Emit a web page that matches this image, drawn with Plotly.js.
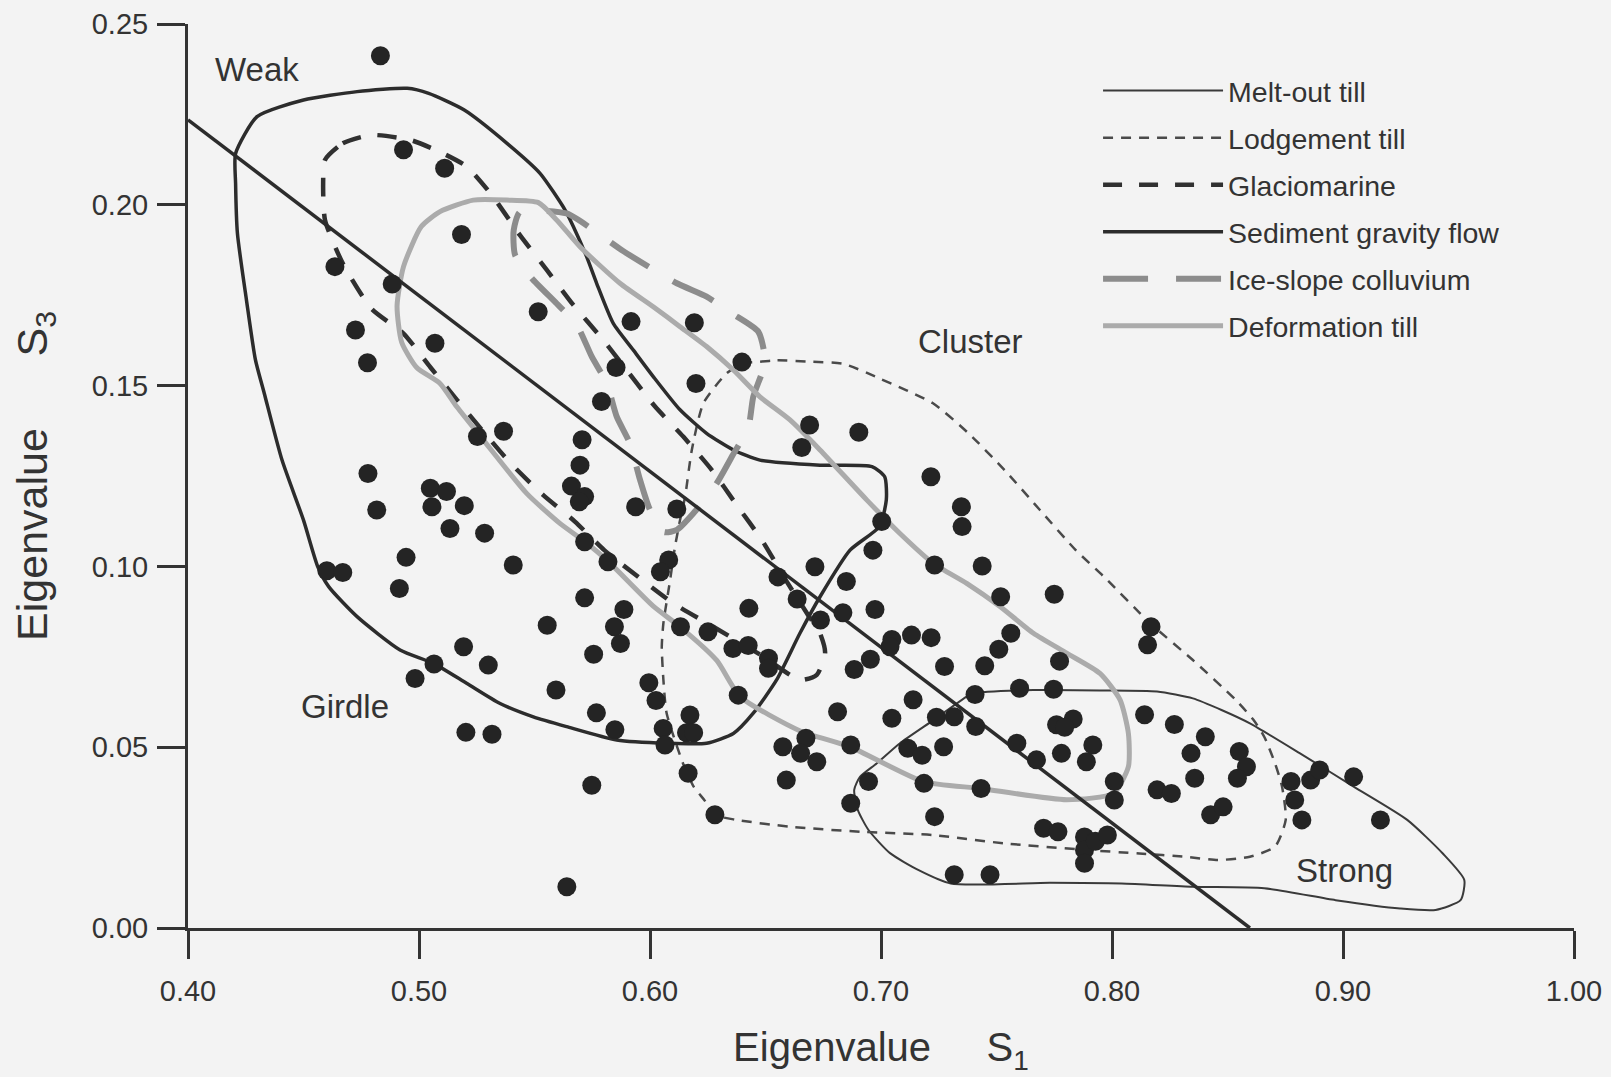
<!DOCTYPE html>
<html>
<head>
<meta charset="utf-8">
<script src="https://cdn.plot.ly/plotly-3.0.1.min.js"></script>
<style>html,body{margin:0;padding:0;background:#f3f3f3;}#chart{width:1611px;height:1077px;}</style>
</head>
<body>
<div id="chart"></div>
<script>
// ---- sample points: eigenvalue S1 (x) and S3 (y) ----
const s1Values = [0.4833,0.4933,0.5111,0.5184,0.4636,0.4884,0.5516,0.4725,0.5069,0.4777,
0.5918,0.6192,0.6398,0.5853,0.6199,0.5790,0.6691,0.6904,0.6657,0.5366,
0.5253,0.5706,0.5697,0.4779,0.5660,0.5717,0.5694,0.5938,0.6116,0.7216,
0.7348,0.7351,0.7003,0.4817,0.5049,0.5119,0.5056,0.5196,0.5134,0.5284,
0.4944,0.5408,0.4915,0.4601,0.4670,0.6965,0.5717,0.5818,0.6081,0.6045,
0.6714,0.7232,0.7438,0.6554,0.6850,0.7518,0.7750,0.6637,0.5717,0.6428,
0.6835,0.6974,0.6738,0.5887,0.5555,0.5846,0.5872,0.6132,0.6251,0.7562,
0.7510,0.7047,0.7132,0.7217,0.7039,0.6359,0.6425,0.6513,0.6513,0.7449,
0.7773,0.6954,0.6884,0.7275,0.5756,0.5193,0.5300,0.5065,0.4983,0.5593,
0.5995,0.6026,0.6382,0.7407,0.7600,0.7747,0.7139,0.5768,0.6812,0.7047,
0.7240,0.7317,0.7410,0.7760,0.7832,0.7795,0.6173,0.6057,0.6158,0.6189,
0.5848,0.5203,0.5316,0.6065,0.5748,0.5640,0.6165,0.6281,0.6575,0.6675,
0.6652,0.6722,0.6590,0.6869,0.6946,0.6869,0.7116,0.7178,0.7271,0.7186,
0.7433,0.7232,0.7317,0.7472,0.7704,0.7766,0.7588,0.7673,0.7781,0.7889,
0.7917,0.7881,0.7881,0.7881,0.7928,0.7980,0.8010,0.8010,0.8195,0.8257,
0.8342,0.8404,0.8358,0.8427,0.8481,0.8551,0.8582,0.8543,0.8270,0.8141,
0.8775,0.8791,0.8822,0.8860,0.8899,0.9046,0.9162,0.8169,0.8154];
const s3Values = [0.2412,0.2152,0.2101,0.1918,0.1829,0.1781,0.1704,0.1654,0.1617,0.1563,
0.1677,0.1674,0.1565,0.1550,0.1506,0.1456,0.1391,0.1371,0.1329,0.1374,
0.1359,0.1350,0.1280,0.1257,0.1222,0.1193,0.1179,0.1165,0.1159,0.1248,
0.1165,0.1110,0.1124,0.1156,0.1216,0.1207,0.1165,0.1168,0.1105,0.1092,
0.1025,0.1004,0.0939,0.0988,0.0983,0.1045,0.1068,0.1013,0.1018,0.0985,
0.0999,0.1004,0.1001,0.0971,0.0958,0.0916,0.0923,0.0910,0.0913,0.0884,
0.0872,0.0881,0.0852,0.0881,0.0837,0.0833,0.0787,0.0833,0.0819,0.0815,
0.0771,0.0798,0.0810,0.0803,0.0778,0.0773,0.0781,0.0746,0.0718,0.0725,
0.0738,0.0743,0.0715,0.0723,0.0757,0.0778,0.0727,0.0730,0.0690,0.0658,
0.0678,0.0629,0.0644,0.0646,0.0663,0.0660,0.0631,0.0595,0.0598,0.0580,
0.0583,0.0584,0.0557,0.0562,0.0578,0.0555,0.0589,0.0552,0.0540,0.0540,
0.0548,0.0541,0.0536,0.0506,0.0395,0.0114,0.0428,0.0313,0.0501,0.0525,
0.0483,0.0460,0.0409,0.0506,0.0405,0.0345,0.0497,0.0478,0.0501,0.0400,
0.0386,0.0308,0.0147,0.0147,0.0276,0.0266,0.0511,0.0465,0.0483,0.0460,
0.0506,0.0252,0.0216,0.0179,0.0240,0.0257,0.0405,0.0354,0.0382,0.0372,
0.0483,0.0529,0.0414,0.0313,0.0335,0.0488,0.0446,0.0414,0.0563,0.0590,
0.0405,0.0354,0.0299,0.0409,0.0437,0.0418,0.0299,0.0833,0.0783];

// ---- envelope outlines (S1, S3) ----
const meltoutX = [0.7400,0.7660,0.7950,0.8195,0.8350,0.8474,0.8597,0.8814,0.9046,0.9278,0.9432,0.9525,0.9509,0.9401,0.9247,0.8968,0.8659,0.8350,0.8041,0.7732,0.7302,0.7163,0.7039,0.6946,0.6900,0.6884,0.6909,0.6981,0.7082,0.7227,0.7371,0.7400];
const meltoutY = [0.0649,0.0658,0.0657,0.0654,0.0635,0.0603,0.0566,0.0483,0.0391,0.0299,0.0206,0.0133,0.0077,0.0050,0.0054,0.0077,0.0110,0.0114,0.0123,0.0125,0.0123,0.0160,0.0207,0.0271,0.0326,0.0382,0.0418,0.0455,0.0511,0.0575,0.0640,0.0649];

const lodgementX = [0.6476,0.6552,0.6699,0.6838,0.6993,0.7225,0.7379,0.7534,0.7688,0.7843,0.7964,0.8165,0.8350,0.8535,0.8613,0.8659,0.8706,0.8736,0.8752,0.8706,0.8597,0.8458,0.8319,0.8118,0.7886,0.7534,0.7225,0.6915,0.6606,0.6374,0.6281,0.6235,0.6189,0.6143,0.6072,0.6058,0.6051,0.6058,0.6087,0.6108,0.6130,0.6152,0.6181,0.6231,0.6332,0.6404,0.6476];
const lodgementY = [0.1566,0.1570,0.1566,0.1560,0.1520,0.1451,0.1368,0.1267,0.1156,0.1045,0.0972,0.0843,0.0741,0.0631,0.0575,0.0529,0.0455,0.0391,0.0299,0.0225,0.0197,0.0188,0.0197,0.0206,0.0216,0.0234,0.0257,0.0266,0.0280,0.0299,0.0313,0.0354,0.0391,0.0455,0.0594,0.0686,0.0778,0.0843,0.0962,0.1054,0.1128,0.1193,0.1322,0.1451,0.1534,0.1562,0.1566];

const glaciomarineX = [0.4593,0.4670,0.4794,0.4964,0.5088,0.5206,0.5315,0.5437,0.5553,0.5668,0.5791,0.5899,0.6022,0.6144,0.6267,0.6375,0.6484,0.6590,0.6680,0.6736,0.6758,0.6722,0.6649,0.6480,0.6274,0.6101,0.5957,0.5802,0.5675,0.5538,0.5397,0.5273,0.5165,0.5050,0.4933,0.4794,0.4670,0.4593,0.4585,0.4593];
const glaciomarineY = [0.2124,0.2170,0.2193,0.2179,0.2147,0.2106,0.2027,0.1916,0.1820,0.1723,0.1631,0.1543,0.1442,0.1359,0.1267,0.1170,0.1073,0.0960,0.0870,0.0815,0.0760,0.0700,0.0686,0.0755,0.0833,0.0898,0.0967,0.1045,0.1124,0.1197,0.1285,0.1377,0.1460,0.1550,0.1644,0.1713,0.1838,0.1958,0.2059,0.2124];

const gravityFlowX = [0.4206,0.4299,0.4500,0.4732,0.4949,0.5042,0.5196,0.5381,0.5524,0.5632,0.5668,0.5726,0.5769,0.5841,0.5928,0.6014,0.6130,0.6245,0.6361,0.6476,0.6736,0.6961,0.7016,0.7023,0.6993,0.6866,0.6736,0.6649,0.6548,0.6447,0.6361,0.6245,0.6072,0.5856,0.5639,0.5495,0.5351,0.5206,0.5062,0.4918,0.4732,0.4609,0.4562,0.4500,0.4407,0.4330,0.4292,0.4253,0.4214,0.4206,0.4206];
const gravityFlowY = [0.2142,0.2244,0.2290,0.2313,0.2322,0.2308,0.2262,0.2170,0.2087,0.1986,0.1940,0.1856,0.1783,0.1672,0.1598,0.1525,0.1433,0.1368,0.1322,0.1294,0.1280,0.1276,0.1248,0.1184,0.1110,0.1045,0.0916,0.0815,0.0686,0.0594,0.0538,0.0511,0.0511,0.0520,0.0557,0.0584,0.0621,0.0677,0.0732,0.0769,0.0861,0.0944,0.0999,0.1128,0.1294,0.1479,0.1571,0.1737,0.1921,0.2059,0.2142];

const iceSlopeX = [0.5416,0.5488,0.5596,0.5683,0.5748,0.5813,0.5856,0.5913,0.5957,0.6000,0.6060,0.6116,0.6188,0.6289,0.6354,0.6426,0.6447,0.6498,0.6469,0.6354,0.6245,0.6116,0.5877,0.5755,0.5639,0.5437,0.5410,0.5416];
const iceSlopeY = [0.1861,0.1797,0.1727,0.1668,0.1580,0.1506,0.1414,0.1340,0.1239,0.1156,0.1095,0.1101,0.1147,0.1230,0.1303,0.1386,0.1469,0.1566,0.1649,0.1700,0.1746,0.1783,0.1875,0.1930,0.1976,0.1980,0.1930,0.1861];

const deformationX = [0.5517,0.5380,0.5235,0.5091,0.5010,0.4933,0.4905,0.4925,0.4990,0.5091,0.5163,0.5278,0.5466,0.5610,0.5719,0.5820,0.6014,0.6130,0.6289,0.6390,0.6650,0.6866,0.7183,0.7429,0.7804,0.8006,0.8071,0.8071,0.8035,0.7948,0.7804,0.7660,0.7515,0.7371,0.7227,0.7082,0.6938,0.6736,0.6606,0.6476,0.6361,0.6245,0.6130,0.6014,0.5870,0.5697,0.5596,0.5517];
const deformationY = [0.2006,0.2013,0.2013,0.1981,0.1940,0.1829,0.1720,0.1620,0.1550,0.1506,0.1442,0.1350,0.1202,0.1119,0.1068,0.1013,0.0890,0.0833,0.0740,0.0640,0.0545,0.0501,0.0405,0.0386,0.0355,0.0372,0.0446,0.0538,0.0631,0.0704,0.0760,0.0815,0.0889,0.0953,0.1008,0.1091,0.1184,0.1322,0.1405,0.1469,0.1543,0.1608,0.1663,0.1718,0.1783,0.1884,0.1958,0.2006];

// Girdle / cluster divide
const divideX = [0.40, 0.8597];
const divideY = [0.2235, 0.0];

const seriesNames = ['Melt-out till','Lodgement till','Glaciomarine','Sediment gravity flow','Ice-slope colluvium','Deformation till'];
const fabricLabels = ['Weak','Girdle','Cluster','Strong'];
const tickValsX = [0.40,0.50,0.60,0.70,0.80,0.90,1.00];
const tickValsY = [0.00,0.05,0.10,0.15,0.20,0.25];

const FONT = 'Liberation Sans, Arial, Helvetica, sans-serif';
const INK = '#333333';

function outline(name, xs, ys, line, grp) {
  return {type:'scatter', mode:'lines', name:name, x:xs, y:ys, legendgroup:grp,
          line:Object.assign({shape:'spline', smoothing:0.6}, line), hoverinfo:'name'};
}

const traces = [
  outline(seriesNames[0], meltoutX, meltoutY, {color:'#3a3a3a', width:2}, 'g1'),
  outline(seriesNames[1], lodgementX, lodgementY, {color:'#4a4a4a', width:2.5, dash:'10px,8px'}, 'g2'),
  outline(seriesNames[2], glaciomarineX, glaciomarineY, {color:'#303030', width:4.5, dash:'19px,17px'}, 'g3'),
  outline(seriesNames[3], gravityFlowX, gravityFlowY, {color:'#2c2c2c', width:3.5}, 'g4'),
  outline(seriesNames[4], iceSlopeX, iceSlopeY, {color:'#8c8c8c', width:6, dash:'45px,28px'}, 'g5'),
  outline(seriesNames[5], deformationX, deformationY, {color:'#ababab', width:5}, 'g6'),
  {type:'scatter', mode:'lines', x:divideX, y:divideY, showlegend:false,
   line:{color:'#2c2c2c', width:3.5}, hoverinfo:'skip'},
  {type:'scatter', mode:'markers', x:s1Values, y:s3Values, showlegend:false,
   marker:{color:'#242424', size:19, line:{width:0}}, hovertemplate:'S1 %{x:.3f}<br>S3 %{y:.3f}<extra></extra>'}
];

const labelPos = [[0.4299,0.2373],[0.4678,0.0612],[0.7387,0.1621],[0.9007,0.0160]];
const annotations = fabricLabels.map((t,i)=>({x:labelPos[i][0], y:labelPos[i][1], xref:'x', yref:'y',
  text:t, showarrow:false, font:{family:FONT, size:33, color:INK}}));

const axisCommon = {showgrid:false, zeroline:false, showline:true, linecolor:INK, linewidth:3,
  ticks:'outside', ticklen:28, tickwidth:3, tickcolor:INK, tickformat:'.2f',
  tickfont:{family:FONT, size:29, color:INK}, fixedrange:true};

const layout = {
  width:1611, height:1077,
  margin:{l:188, r:37, t:24, b:149},
  paper_bgcolor:'#f3f3f3', plot_bgcolor:'#f3f3f3',
  font:{family:FONT, color:INK},
  xaxis:Object.assign({}, axisCommon, {range:[0.4,1.0], tickvals:tickValsX, ticklabelstandoff:7,
    title:{text:'Eigenvalue\u00a0\u00a0\u00a0\u00a0\u00a0S<sub>1</sub>', font:{family:FONT, size:40, color:INK}, standoff:28}}),
  yaxis:Object.assign({}, axisCommon, {range:[0,0.25], tickvals:tickValsY, ticklabelstandoff:3,
    title:{text:'Eigenvalue\u00a0\u00a0\u00a0\u00a0\u00a0\u00a0S<sub>3</sub>', font:{family:FONT, size:43, color:INK}, standoff:31}}),
  showlegend:true,
  legend:{x:0.6566, y:0.954, xanchor:'left', yanchor:'top', bgcolor:'rgba(0,0,0,0)',
    font:{family:FONT, size:28.5, color:INK}, itemwidth:120, tracegroupgap:7, traceorder:'grouped'},
  annotations:annotations
};

Plotly.newPlot('chart', traces, layout, {displayModeBar:false, staticPlot:false});
</script>
</body>
</html>
